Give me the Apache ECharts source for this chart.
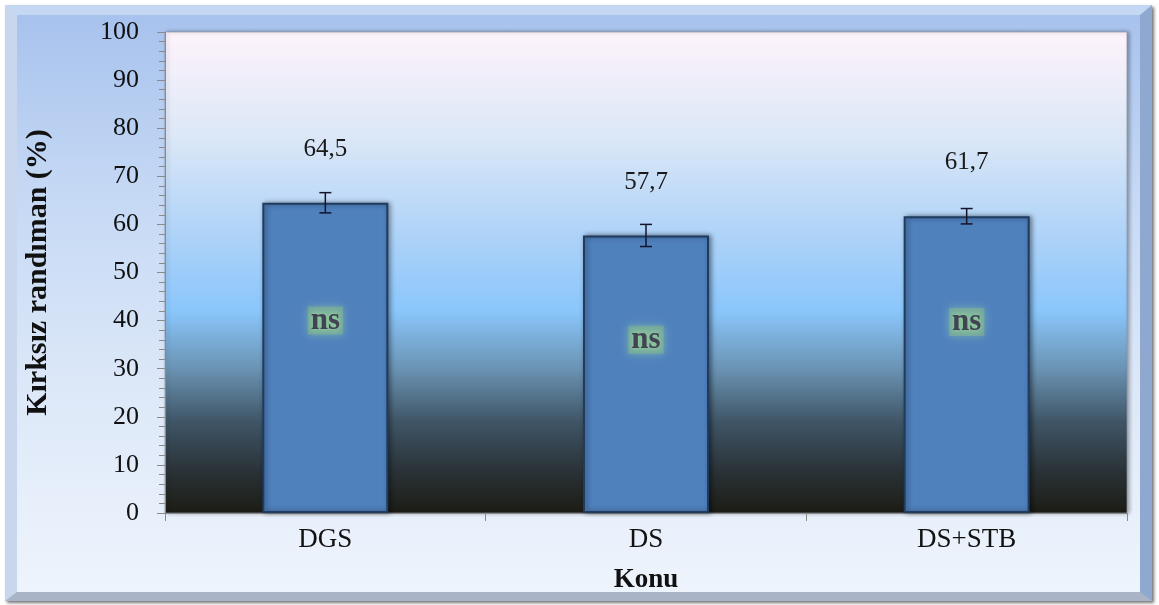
<!DOCTYPE html>
<html>
<head>
<meta charset="utf-8">
<script src="https://cdn.jsdelivr.net/npm/echarts@6/dist/echarts.min.js"></script>
<style>
  html, body { margin: 0; padding: 0; background: #ffffff; }
  #frame {
    position: absolute; left: 5px; top: 5px; width: 1147px; height: 596px;
    box-sizing: border-box;
    border-style: solid; border-width: 10px 12px 9px 12px;
    border-color: #c4d7f3 #8ea8d0 #a9b4c6 #c9d7ee;
    background: linear-gradient(to bottom, #a7c2ed 0%, #c3d7f4 28%, #dbe7f8 62%, #eef4fc 100%);
    box-shadow: 2px 2px 3px rgba(0,0,0,0.55);
  }
  #chart { position: absolute; left: 0; top: 0; width: 1159px; height: 605px; }
</style>
</head>
<body>
<div id="frame"></div>
<div id="chart"></div>
<script>
// ---- data ----
const categories = ['DGS', 'DS', 'DS+STB'];
const values = [64.5, 57.7, 61.7];
const errors = [2.1, 2.3, 1.6];
const nsText = ['ns', 'ns', 'ns'];
const nsLevel = [40, 36, 39.7];
const yTicks = { min: 0, max: 100, interval: 10 };
const yTitle = 'Kırksız randıman (%)';
const xTitle = 'Konu';

const serif = '"Liberation Serif", "Times New Roman", serif';
const chart = echarts.init(document.getElementById('chart'), null, { renderer: 'canvas' });

const errData = categories.map((c, i) => [i, values[i] - errors[i], values[i] + errors[i]]);
const nsData = categories.map((c, i) => [i, nsLevel[i], nsText[i]]);

chart.setOption({
  backgroundColor: 'transparent',
  animation: false,
  grid: {
    left: 165, right: 32, top: 32, bottom: 92,
    show: true,
    borderWidth: 1,
    borderColor: 'rgba(140,150,170,0.7)',
    backgroundColor: new echarts.graphic.LinearGradient(0, 0, 0, 1, [
      { offset: 0.00, color: '#fef3fb' },
      { offset: 0.22, color: '#dbe7f7' },
      { offset: 0.42, color: '#afd3f8' },
      { offset: 0.58, color: '#8ac6fb' },
      { offset: 0.70, color: '#6a93b3' },
      { offset: 0.81, color: '#3f5566' },
      { offset: 0.91, color: '#2a3338' },
      { offset: 1.00, color: '#1c1c14' }
    ]),
    shadowColor: 'rgba(0,0,0,0.35)',
    shadowBlur: 4,
    shadowOffsetX: 2,
    shadowOffsetY: 0
  },
  xAxis: {
    type: 'category',
    data: categories,
    name: xTitle,
    nameLocation: 'middle',
    nameGap: 54,
    nameTextStyle: { fontFamily: serif, fontWeight: 'bold', fontSize: 27, color: '#111' },
    axisLine: { show: true, lineStyle: { color: '#8a8a8a', width: 1 } },
    axisTick: { show: true, alignWithLabel: false, length: 8, lineStyle: { color: '#8a8a8a' } },
    axisLabel: { fontFamily: serif, fontSize: 27, color: '#111', margin: 13 },
    splitLine: { show: false }
  },
  yAxis: {
    type: 'value',
    min: yTicks.min, max: yTicks.max, interval: yTicks.interval,
    name: yTitle,
    nameLocation: 'middle',
    nameRotate: 90,
    nameGap: 112,
    nameTextStyle: { fontFamily: serif, fontWeight: 'bold', fontSize: 30, color: '#111' },
    axisLine: { show: true, lineStyle: { color: '#8a8a8a', width: 1 } },
    axisTick: { show: true, length: 8, lineStyle: { color: '#8a8a8a' } },
    minorTick: { show: true, splitNumber: 5, length: 6, lineStyle: { color: '#8a8a8a' } },
    axisLabel: { fontFamily: serif, fontSize: 26, color: '#111', margin: 26 },
    splitLine: { show: false }
  },
  series: [
    {
      type: 'bar',
      data: values,
      barWidth: 126,
      itemStyle: {
        color: '#4f81bd',
        borderColor: '#1f3b60',
        borderWidth: 2,
        shadowColor: 'rgba(0,0,0,0.45)',
        shadowBlur: 5,
        shadowOffsetX: 2
      },
      label: {
        show: true,
        position: 'top',
        distance: 41,
        fontFamily: serif,
        fontSize: 25,
        color: '#1a1a1a',
        formatter: p => String(p.value).replace('.', ',')
      },
      z: 2
    },
    {
      type: 'custom',
      data: errData,
      z: 5,
      renderItem: function (params, api) {
        const x = api.value(0);
        const top = api.coord([x, api.value(2)]);
        const bot = api.coord([x, api.value(1)]);
        const half = 6;
        const st = { stroke: '#14142a', lineWidth: 1.5 };
        return {
          type: 'group',
          children: [
            { type: 'line', shape: { x1: top[0], y1: top[1], x2: bot[0], y2: bot[1] }, style: st },
            { type: 'line', shape: { x1: top[0] - half, y1: top[1], x2: top[0] + half, y2: top[1] }, style: st },
            { type: 'line', shape: { x1: bot[0] - half, y1: bot[1], x2: bot[0] + half, y2: bot[1] }, style: st }
          ]
        };
      }
    },
    {
      type: 'scatter',
      data: nsData,
      symbolSize: 1,
      itemStyle: { color: 'transparent' },
      z: 6,
      label: {
        show: true,
        position: 'inside',
        formatter: p => p.value[2],
        fontFamily: serif,
        fontWeight: 'bold',
        fontSize: 31,
        lineHeight: 26,
        color: '#2e2242',
        backgroundColor: 'rgba(140,190,130,0.55)',
        padding: [0, 3, 2, 3],
        shadowColor: '#a6e6a0',
        shadowBlur: 8,
        textShadowColor: '#9ee09a',
        textShadowBlur: 4
      }
    }
  ]
});
</script>
</body>
</html>
